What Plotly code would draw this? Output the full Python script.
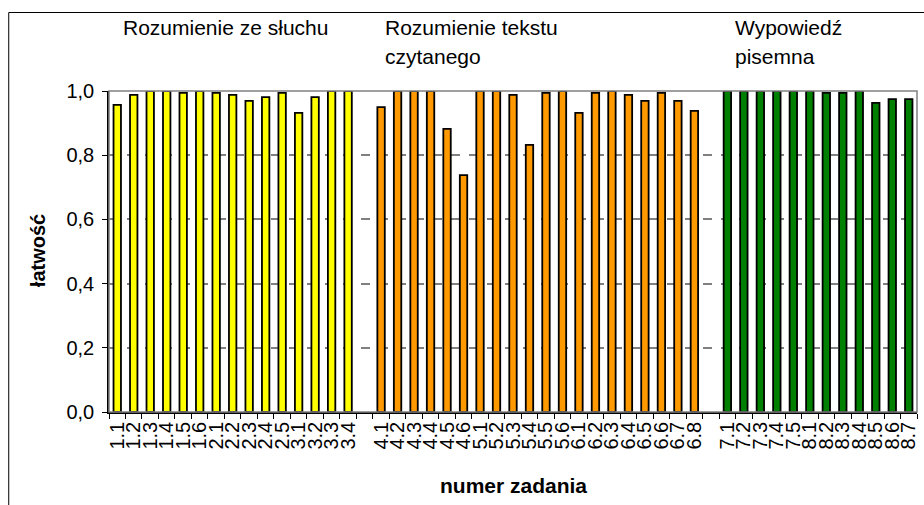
import plotly.graph_objects as go

# Task numbers per section
sec1_tasks = ["1.1", "1.2", "1.3", "1.4", "1.5", "1.6", "2.1", "2.2", "2.3", "2.4", "2.5",
              "3.1", "3.2", "3.3", "3.4"]
sec2_tasks = ["4.1", "4.2", "4.3", "4.4", "4.5", "4.6", "5.1", "5.2", "5.3", "5.4", "5.5", "5.6",
              "6.1", "6.2", "6.3", "6.4", "6.5", "6.6", "6.7", "6.8"]
sec3_tasks = ["7.1", "7.2", "7.3", "7.4", "7.5", "8.1", "8.2", "8.3", "8.4", "8.5", "8.6", "8.7"]

# Facility index (łatwość) per task
sec1_vals = [0.957, 0.988, 1.0, 1.0, 0.994, 1.0, 0.994, 0.988, 0.969, 0.981, 0.994,
             0.932, 0.981, 1.0, 1.0]
sec2_vals = [0.950, 1.0, 1.0, 1.0, 0.882, 0.738, 1.0, 1.0, 0.988, 0.832, 0.994, 1.0,
             0.932, 0.994, 1.0, 0.988, 0.969, 0.994, 0.969, 0.938]
sec3_vals = [1.0, 1.0, 1.0, 1.0, 1.0, 1.0, 0.994, 0.994, 1.0, 0.963, 0.975, 0.975]

sec_names = ["Rozumienie ze słuchu", "Rozumienie tekstu czytanego", "Wypowiedź pisemna"]
sec_colors = ["#FFFF00", "#FF9900", "#008000"]

# blank spacer categories between sections
gap1, gap2 = " ", "  "
categories = sec1_tasks + [gap1] + sec2_tasks + [gap2] + sec3_tasks

W, H = 924, 505
ML, MR, MT, MB = 109, 5, 91, 93
PW, PH = W - ML - MR, H - MT - MB

FONT = "Liberation Sans, Arial, sans-serif"
FS = 20

fig = go.Figure()
for tasks, vals, col, name in zip([sec1_tasks, sec2_tasks, sec3_tasks],
                                  [sec1_vals, sec2_vals, sec3_vals], sec_colors, sec_names):
    fig.add_trace(go.Bar(
        x=tasks, y=vals, name=name, marker=dict(color=col, line=dict(color="#000000", width=1.8)),
        showlegend=False,
    ))


def px_x(px):
    return (px - ML) / PW


def px_y(py):
    return 1 + (MT - py) / PH


annots = []
# section headings above the plot area
heads = [("Rozumienie ze słuchu", 121, 27), ("Rozumienie tekstu", 384, 27), ("czytanego", 384, 57),
         ("Wypowiedź", 735, 27), ("pisemna", 735, 57)]
for txt, x, y in heads:
    annots.append(dict(text=txt, x=px_x(x), y=px_y(y), xref="paper", yref="paper",
                       xanchor="left", yanchor="middle", showarrow=False,
                       font=dict(family=FONT, size=21, color="#000000")))
# axis titles
annots.append(dict(text="<b>łatwość</b>", x=px_x(38), y=px_y(251), xref="paper", yref="paper",
                   textangle=-90, showarrow=False, xanchor="center", yanchor="middle",
                   font=dict(family=FONT, size=FS, color="#000000")))
annots.append(dict(text="<b>numer zadania</b>", x=px_x(514), y=px_y(485), xref="paper", yref="paper",
                   showarrow=False, xanchor="center", yanchor="middle",
                   font=dict(family=FONT, size=21, color="#000000")))

shapes = [
    # plot area frame
    dict(type="rect", xref="paper", yref="paper", x0=0, x1=1, y0=0, y1=1,
         line=dict(color="#808080", width=1.5), layer="above"),
    # outer chart frame
    dict(type="rect", xref="paper", yref="paper", x0=px_x(8.5), x1=px_x(940), y0=px_y(12.5), y1=px_y(540),
         line=dict(color="#000000", width=1)),
]

fig.update_layout(
    width=W, height=H,
    margin=dict(l=ML, r=MR, t=MT, b=MB),
    paper_bgcolor="#FFFFFF", plot_bgcolor="#FFFFFF",
    separators=", ",
    bargap=0.55,
    annotations=annots,
    shapes=shapes,
    font=dict(family=FONT, size=FS, color="#000000"),
    xaxis=dict(
        type="category", categoryorder="array", categoryarray=categories,
        tickmode="array", tickvals=categories, ticktext=categories,
        tickson="boundaries", ticks="outside", ticklen=5, tickcolor="#000000",
        tickangle=-90, tickfont=dict(family=FONT, size=FS, color="#000000"),
        showline=True, linecolor="#000000", linewidth=1.5, showgrid=False,
        range=[-0.5, len(categories) - 0.5],
    ),
    yaxis=dict(
        range=[0, 1.0], tickvals=[0, 0.2, 0.4, 0.6, 0.8, 1.0], tickformat=".1f",
        ticks="outside", ticklen=5, tickcolor="#000000", ticklabelstandoff=4,
        tickfont=dict(family=FONT, size=FS, color="#000000"),
        showline=True, linecolor="#000000", linewidth=1.5,
        showgrid=True, gridcolor="#808080", griddash="dash", gridwidth=1.5,
        zeroline=False,
    ),
)

fig.write_html("out.html")
